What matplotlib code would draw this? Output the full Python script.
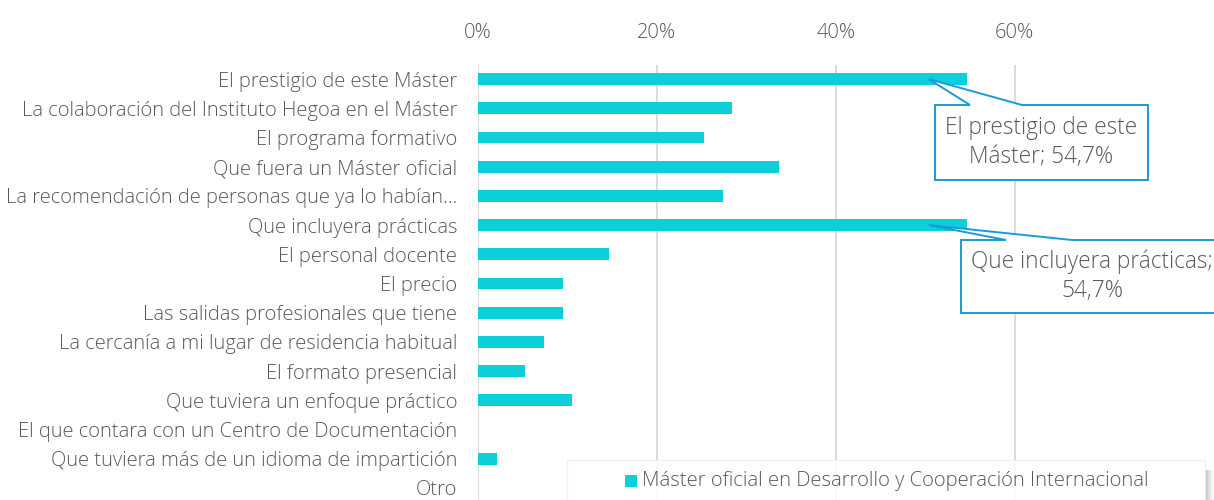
import matplotlib.pyplot as plt
from matplotlib.patches import Polygon, Rectangle
from matplotlib.transforms import IdentityTransform
from matplotlib.ticker import FuncFormatter

categories = [
    "El prestigio de este Máster",
    "La colaboración del Instituto Hegoa en el Máster",
    "El programa formativo",
    "Que fuera un Máster oficial",
    "La recomendación de personas que ya lo habían…",
    "Que incluyera prácticas",
    "El personal docente",
    "El precio",
    "Las salidas profesionales que tiene",
    "La cercanía a mi lugar de residencia habitual",
    "El formato presencial",
    "Que tuviera un enfoque práctico",
    "El que contara con un Centro de Documentación",
    "Que tuviera más de un idioma de impartición",
    "Otro",
]
values = [54.7, 28.4, 25.3, 33.7, 27.4, 54.7, 14.7, 9.5, 9.5, 7.4, 5.3, 10.5, 0.0, 2.1, 0.0]
series_name = "Máster oficial en Desarrollo y Cooperación Internacional"
callout_text = {0: "El prestigio de este\nMáster; 54,7%", 5: "Que incluyera prácticas;\n54,7%"}

bar_color = "#0ccfda"
text_color = "#595959"
grid_color = "#d9d9d9"
callout_color = "#1a9bd7"

plt.rcParams["font.family"] = ["Open Sans", "DejaVu Sans"]
plt.rcParams["font.weight"] = "light"

W, H = 1214, 500
fig = plt.figure(figsize=(W / 100, H / 100), dpi=100)
ax = fig.add_axes([478 / W, -0.005, 736 / W, 0.876])

y = list(range(len(categories)))
ax.barh(y, values, height=0.40, color=bar_color, zorder=2)

ax.set_ylim(len(categories) - 0.5, -0.5)
ax.set_xlim(0, 82.3)
ax.set_xticks([0, 20, 40, 60])
ax.xaxis.set_major_formatter(FuncFormatter(lambda v, p: f"{v:.0f}%"))
ax.xaxis.tick_top()
ax.tick_params(axis="x", length=0, pad=15.5, labelsize=14.5, labelcolor=text_color)
ax.set_yticks(y)
ax.set_yticklabels(categories)
ax.tick_params(axis="y", length=0, pad=15, labelsize=14.5, labelcolor=text_color)
ax.grid(axis="x", color=grid_color, linewidth=1.3, zorder=0)
for s in ax.spines.values():
    s.set_visible(False)


def px(x, yy):
    # pixel (top-left origin) -> display coords
    return (x, H - yy)


# callout boxes: (left, top, right, bottom, pointer base left, pointer base right)
boxes = {0: (935, 105, 1148, 180, 970, 1022), 5: (961, 240, 1230, 313, 1006, 1072)}
for i, (l, t, r, b, p1, p2) in boxes.items():
    tip = ax.transData.transform((values[i] - 4.3, i))
    pts = [px(l, t), px(p1, t), tuple(tip), px(p2, t), px(r, t), px(r, b), px(l, b)]
    fig.patches.append(Polygon(pts, closed=True, fc="white", ec=callout_color, lw=1.4,
                               transform=IdentityTransform(), zorder=5))
    cx = (l + min(r, 1223)) / 2
    fig.text(cx / W, 1 - (t + b) / 2 / H, callout_text[i], ha="center", va="center",
             fontsize=16.3, color=text_color, linespacing=1.3, zorder=6)

# legend frame with soft shadow on the right
for k, a in enumerate([0.55, 0.45, 0.35, 0.27, 0.2, 0.14, 0.09, 0.05, 0.03]):
    fig.patches.append(Rectangle(((1205 + k) / W, -0.02), 1 / W, 40 / H,
                                 transform=fig.transFigure, fc="#7f7f7f", ec="none",
                                 alpha=a, zorder=7))
fig.patches.append(Rectangle((567 / W, -0.02), 638 / W, 50 / H, transform=fig.transFigure,
                             fc="white", ec="#efefef", lw=1.0, alpha=0.85, zorder=8))
fig.patches.append(Rectangle((625 / W, 1 - 487 / H), 12 / W, 12 / H, transform=fig.transFigure,
                             fc=bar_color, ec="none", zorder=9))
fig.text(642 / W, 1 - 481 / H, series_name, ha="left", va="center", fontsize=14.6,
         color=text_color, zorder=9)

fig.savefig("out.png", dpi=100)
